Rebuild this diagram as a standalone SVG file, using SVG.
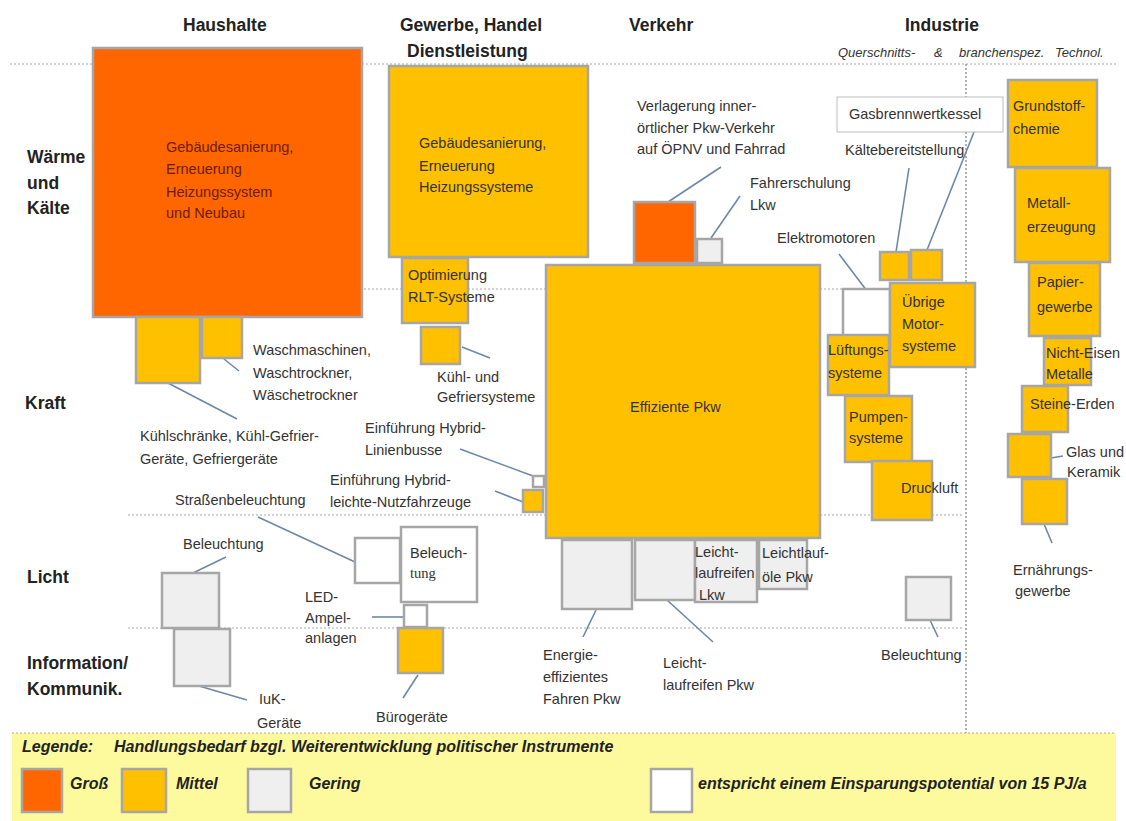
<svg xmlns="http://www.w3.org/2000/svg" width="1126" height="821" viewBox="0 0 1126 821">
<style>
text{font-family:"Liberation Sans",Arial,sans-serif;font-size:14.5px;fill:#333}
.hd{font-size:17.5px;font-weight:bold;fill:#222}
.sub{font-size:13px;font-style:italic;fill:#333}
.lg{font-size:16px;font-weight:bold;font-style:italic;fill:#222}
.serif{font-family:"Liberation Serif","Times New Roman",serif}
.dk{fill:#6b1d00}
.b{stroke:#a6a6a6;stroke-width:2.5}
.o{fill:#ff6600}
.m{fill:#ffc000}
.g{fill:#efefef}
.w{fill:#ffffff}
.grid{stroke:#a8a8a8;stroke-width:1;stroke-dasharray:2 2;fill:none}
.vgrid{stroke:#7a7f8a;stroke-width:1.2;stroke-dasharray:2 2;fill:none}
#connectors line{stroke:#6d88a6;stroke-width:1.6}
</style>
<rect x="0" y="0" width="1126" height="821" fill="#ffffff"/>
<g id="headers">
<text class="hd" x="183" y="31">Haushalte</text>
<text class="hd" x="400" y="31">Gewerbe, Handel</text>
<text class="hd" x="407" y="57">Dienstleistung</text>
<text class="hd" x="629" y="31">Verkehr</text>
<text class="hd" x="905" y="31">Industrie</text>
<text class="sub" x="838" y="57">Querschnitts-</text>
<text class="sub" x="934" y="57">&amp;</text>
<text class="sub" x="959" y="57">branchenspez.</text>
<text class="sub" x="1055" y="57">Technol.</text>
<text class="hd" x="27" y="163">Wärme</text>
<text class="hd" x="27" y="189">und</text>
<text class="hd" x="27" y="214">Kälte</text>
<text class="hd" x="25" y="409">Kraft</text>
<text class="hd" x="27" y="583">Licht</text>
<text class="hd" x="27" y="669">Information/</text>
<text class="hd" x="27" y="695">Kommunik.</text>
</g>
<g id="gridlines">
<line class="grid" x1="10" y1="64" x2="1118" y2="64"/>
<line class="grid" x1="128" y1="289" x2="964" y2="289"/>
<line class="grid" x1="128" y1="515" x2="964" y2="515"/>
<line class="grid" x1="128" y1="628" x2="964" y2="628"/>
<line class="vgrid" x1="966" y1="64" x2="966" y2="733"/>
</g>
<g id="connectors">
<line x1="224" y1="359" x2="239" y2="371"/>
<line x1="168" y1="383" x2="237" y2="419"/>
<line x1="462" y1="347" x2="490" y2="358"/>
<line x1="721" y1="167" x2="668" y2="202"/>
<line x1="740" y1="196" x2="711" y2="238"/>
<line x1="909" y1="168" x2="896" y2="252"/>
<line x1="974" y1="132" x2="927" y2="250"/>
<line x1="839" y1="254" x2="867" y2="291"/>
<line x1="460" y1="449" x2="533" y2="476"/>
<line x1="495" y1="491" x2="523" y2="502"/>
<line x1="258" y1="517" x2="355" y2="562"/>
<line x1="226" y1="557" x2="193" y2="573"/>
<line x1="199" y1="686" x2="247" y2="700"/>
<line x1="372" y1="617" x2="404" y2="617"/>
<line x1="418" y1="675" x2="403" y2="698"/>
<line x1="596" y1="610" x2="583" y2="637"/>
<line x1="667" y1="600" x2="713" y2="642"/>
<line x1="930" y1="620" x2="938" y2="637"/>
<line x1="1051" y1="458" x2="1063" y2="456"/>
<line x1="1044" y1="524" x2="1052" y2="543"/>
</g>
<g id="hh-gebaeude"><rect class="o b" x="93" y="48" width="269" height="269"/>
<text class="dk" x="166" y="152">Gebäudesanierung,</text><text class="dk" x="166" y="174">Erneuerung</text><text class="dk" x="166" y="197">Heizungssystem</text><text class="dk" x="166" y="218">und Neubau</text></g>
<g id="hh-kuehl"><rect class="m b" x="136" y="317" width="64" height="66"/></g>
<g id="hh-wasch"><rect class="m b" x="202" y="317" width="40" height="41"/></g>
<g id="lbl-wasch"><text x="253" y="355">Waschmaschinen,</text><text x="253" y="378">Waschtrockner,</text><text x="253" y="400">Wäschetrockner</text></g>
<g id="lbl-kuehl"><text x="140" y="441">Kühlschränke, Kühl-Gefrier-</text><text x="140" y="464">Geräte, Gefriergeräte</text></g>
<g id="ghd-gebaeude"><rect class="m b" x="389" y="66" width="199" height="191"/>
<text x="419" y="148">Gebäudesanierung,</text><text x="419" y="171">Erneuerung</text><text x="419" y="192">Heizungssysteme</text></g>
<g id="ghd-rlt"><rect class="m b" x="402" y="258" width="66" height="65"/><text x="408" y="280">Optimierung</text><text x="408" y="302">RLT-Systeme</text></g>
<g id="ghd-kuehl"><rect class="m b" x="421" y="327" width="39" height="37"/></g>
<g id="lbl-ghd-kuehl"><text x="437" y="382">Kühl- und</text><text x="437" y="402">Gefriersysteme</text></g>
<g id="vk-verlagerung"><rect class="o b" x="634" y="202" width="61" height="61"/></g>
<g id="lbl-verlagerung"><text x="637" y="111">Verlagerung  inner-</text><text x="637" y="133">örtlicher Pkw-Verkehr</text><text x="637" y="154">auf  ÖPNV und Fahrrad</text></g>
<g id="vk-fahrer"><rect class="g b" x="697" y="239" width="25" height="24"/></g>
<g id="lbl-fahrer"><text x="750" y="188">Fahrerschulung</text><text x="750" y="210">Lkw</text></g>
<g id="vk-pkw"><rect class="m b" x="546" y="265" width="274" height="273"/><text x="630" y="412">Effiziente Pkw</text></g>
<g id="vk-busse"><rect class="w b" x="533" y="476" width="11" height="11"/></g>
<g id="lbl-busse"><text x="365" y="433">Einführung Hybrid-</text><text x="365" y="455">Linienbusse</text></g>
<g id="vk-lnf"><rect class="m b" x="523" y="490" width="20" height="22"/></g>
<g id="lbl-lnf"><text x="330" y="485">Einführung Hybrid-</text><text x="330" y="507">leichte-Nutzfahrzeuge</text></g>
<g id="vk-fahren"><rect class="g b" x="562" y="540" width="70" height="69"/></g>
<g id="lbl-fahren"><text x="543" y="660">Energie-</text><text x="543" y="682">effizientes</text><text x="543" y="704">Fahren Pkw</text></g>
<g id="vk-reifen-pkw"><rect class="g b" x="635" y="540" width="60" height="60"/></g>
<g id="lbl-reifen-pkw"><text x="663" y="668">Leicht-</text><text x="663" y="690">laufreifen Pkw</text></g>
<g id="vk-reifen-lkw"><rect class="g b" x="695" y="540" width="62" height="62"/><text x="695" y="557">Leicht-</text><text x="695" y="578">laufreifen</text><text x="699" y="600">Lkw</text></g>
<g id="vk-oele"><rect class="g b" x="759" y="540" width="48" height="49"/><text x="762" y="558">Leichtlauf-</text><text x="762" y="582">öle Pkw</text></g>
<g id="hh-beleuchtung"><rect class="g b" x="162" y="573" width="57" height="55"/></g>
<g id="lbl-hh-beleuchtung"><text x="183" y="549">Beleuchtung</text></g>
<g id="hh-iuk"><rect class="g b" x="174" y="629" width="56" height="57"/></g>
<g id="lbl-iuk"><text x="259" y="704">IuK-</text><text x="257" y="728">Geräte</text></g>
<g id="ghd-strasse"><rect class="w b" x="355" y="538" width="45" height="45"/></g>
<g id="lbl-strasse"><text x="175" y="505">Straßenbeleuchtung</text></g>
<g id="ghd-beleuchtung"><rect class="w b" x="401" y="527" width="76" height="75"/><text x="410" y="558">Beleuch-</text><text class="serif" x="410" y="578">tung</text></g>
<g id="ghd-led"><rect class="w b" x="404" y="605" width="23" height="22"/></g>
<g id="lbl-led"><text x="305" y="602">LED-</text><text x="305" y="623">Ampel-</text><text x="305" y="643">anlagen</text></g>
<g id="ghd-buero"><rect class="m b" x="398" y="628" width="45" height="45"/></g>
<g id="lbl-buero"><text x="376" y="722">Bürogeräte</text></g>
<g id="ind-gas"><rect x="837" y="97" width="166" height="35" fill="#ffffff" stroke="#bdbdbd" stroke-width="1"/><text x="849" y="119">Gasbrennwertkessel</text></g>
<g id="lbl-kaelte"><text x="845" y="155">Kältebereitstellung</text></g>
<g id="ind-kaelte"><rect class="m b" x="880" y="252" width="29" height="28"/></g>
<g id="ind-gas-box"><rect class="m b" x="911" y="250" width="31" height="30"/></g>
<g id="lbl-elektro"><text x="777" y="243">Elektromotoren</text></g>
<g id="ind-elektro"><rect class="w b" x="843" y="289" width="47" height="50"/></g>
<g id="ind-motor"><rect class="m b" x="890" y="283" width="85" height="84"/><text x="902" y="307">Übrige</text><text x="902" y="329">Motor-</text><text x="902" y="351">systeme</text></g>
<g id="ind-lueftung"><rect class="m b" x="828" y="335" width="61" height="60"/><text x="828" y="355">Lüftungs-</text><text x="828" y="378">systeme</text></g>
<g id="ind-pumpen"><rect class="m b" x="845" y="396" width="67" height="66"/><text x="849" y="422">Pumpen-</text><text x="849" y="443">systeme</text></g>
<g id="ind-druckluft"><rect class="m b" x="872" y="461" width="60" height="59"/><text x="901" y="493">Druckluft</text></g>
<g id="ind-beleuchtung"><rect class="g b" x="906" y="577" width="45" height="43"/></g>
<g id="lbl-ind-beleuchtung"><text x="881" y="660">Beleuchtung</text></g>
<g id="ind-chemie"><rect class="m b" x="1008" y="80" width="89" height="87"/><text x="1013" y="111">Grundstoff-</text><text x="1013" y="134">chemie</text></g>
<g id="ind-metall"><rect class="m b" x="1015" y="168" width="95" height="94"/><text x="1027" y="208">Metall-</text><text x="1027" y="232">erzeugung</text></g>
<g id="ind-papier"><rect class="m b" x="1029" y="263" width="71" height="73"/><text x="1037" y="287">Papier-</text><text x="1037" y="312">gewerbe</text></g>
<g id="ind-ne"><rect class="m b" x="1044" y="338" width="47" height="47"/><text x="1046" y="358">Nicht-Eisen</text><text x="1046" y="379">Metalle</text></g>
<g id="ind-steine"><rect class="m b" x="1022" y="386" width="46" height="46"/><text x="1030" y="409">Steine-Erden</text></g>
<g id="ind-glas"><rect class="m b" x="1008" y="434" width="43" height="43"/></g>
<g id="lbl-glas"><text x="1066" y="457">Glas und</text><text x="1067" y="477">Keramik</text></g>
<g id="ind-ernaehrung"><rect class="m b" x="1022" y="479" width="45" height="45"/></g>
<g id="lbl-ernaehrung"><text x="1013" y="575">Ernährungs-</text><text x="1015" y="596">gewerbe</text></g>
<g id="legend">
<rect x="12" y="733" width="1104" height="88" fill="#fdfa9e"/>
<line class="grid" x1="12" y1="733" x2="1116" y2="733"/>
<text class="lg" x="22" y="752">Legende:</text>
<text class="lg" x="114" y="752">Handlungsbedarf bzgl. Weiterentwicklung politischer Instrumente</text>
<rect class="o b" x="22" y="769" width="40" height="43"/>
<text class="lg" x="70" y="789">Groß</text>
<rect class="m b" x="122" y="769" width="44" height="43"/>
<text class="lg" x="176" y="789">Mittel</text>
<rect class="g b" x="248" y="769" width="43" height="43"/>
<text class="lg" x="309" y="789">Gering</text>
<rect class="w b" x="651" y="769" width="41" height="43"/>
<text class="lg" x="698" y="789">entspricht einem Einsparungspotential von 15 PJ/a</text>
</g>
</svg>
